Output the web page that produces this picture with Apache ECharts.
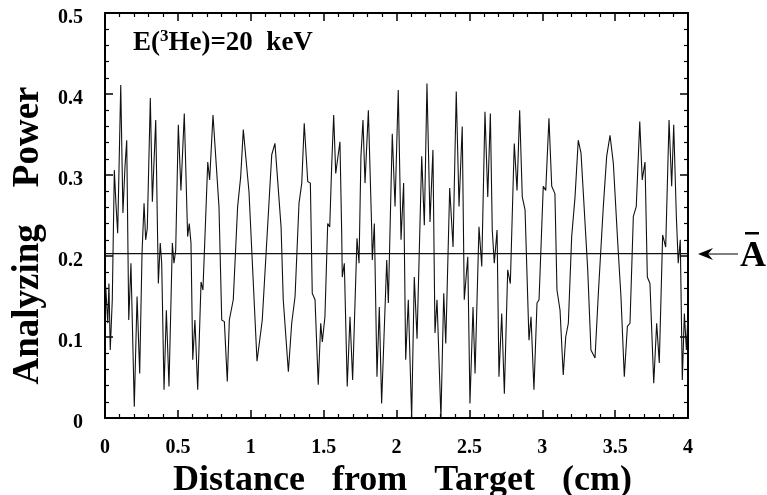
<!DOCTYPE html>
<html><head><meta charset="utf-8">
<script src="https://cdn.jsdelivr.net/npm/echarts@6/dist/echarts.min.js"></script>
<style>html,body{margin:0;padding:0;background:#fff}#c{width:767px;height:495px}</style>
</head><body><div id="c"></div>
<script>
const xs = [0.005,0.019,0.027,0.036,0.050,0.064,0.075,0.087,0.108,0.123,0.137,0.149,0.163,0.178,0.201,0.220,0.238,0.254,0.268,0.279,0.290,0.311,0.325,0.348,0.366,0.379,0.389,0.405,0.421,0.439,0.462,0.473,0.485,0.503,0.521,0.544,0.567,0.578,0.590,0.602,0.617,0.636,0.659,0.672,0.705,0.718,0.741,0.782,0.791,0.801,0.819,0.839,0.853,0.880,0.910,0.931,0.949,
0.988,1.043,1.079,1.144,1.166,1.208,1.223,1.258,1.281,1.304,1.331,1.350,1.367,1.391,1.409,1.422,1.441,1.463,1.480,1.491,1.509,1.528,1.542,1.555,1.569,1.583,1.597,1.612,1.624,1.628,1.642,1.662,1.681,1.699,1.729,1.743,1.756,1.770,1.784,1.807,1.830,1.834,1.848,1.866,1.882,1.898,
1.933,1.944,1.971,1.990,2.012,2.031,2.049,2.063,2.081,2.104,2.122,2.141,2.173,2.191,2.209,2.230,2.250,2.264,2.278,2.305,2.324,2.338,2.365,2.388,2.410,2.429,2.451,2.465,2.489,2.504,2.525,2.539,2.566,2.585,2.607,2.626,2.644,2.657,2.671,2.690,2.703,2.722,2.740,2.763,2.781,2.808,2.827,2.845,2.863,
2.882,2.909,2.923,2.943,2.964,2.978,3.007,3.024,3.046,3.065,3.087,3.101,3.122,3.144,3.161,3.179,3.202,3.225,3.247,3.266,3.312,3.334,3.362,3.385,3.419,3.442,3.465,3.488,3.518,3.540,3.563,3.584,3.602,3.625,3.645,3.669,3.686,3.705,3.721,3.739,3.765,3.785,3.803,3.826,3.847,3.870,3.888,3.902,3.920,3.933,3.947,3.961,3.975,3.989,3.998];
const ys = [0.162,0.117,0.166,0.084,0.146,0.306,0.265,0.228,0.411,0.253,0.310,0.343,0.121,0.191,0.014,0.150,0.055,0.203,0.265,0.220,0.234,0.395,0.267,0.368,0.166,0.216,0.191,0.035,0.133,0.039,0.216,0.191,0.207,0.362,0.281,0.376,0.224,0.240,0.216,0.072,0.121,0.035,0.168,0.158,0.316,0.294,0.374,0.261,0.259,0.121,0.119,0.045,0.121,0.146,0.261,0.298,0.356,
0.279,0.070,0.121,0.325,0.339,0.236,0.146,0.057,0.117,0.150,0.265,0.290,0.364,0.292,0.290,0.154,0.146,0.041,0.117,0.094,0.125,0.240,0.236,0.310,0.374,0.302,0.321,0.341,0.228,0.174,0.191,0.039,0.125,0.047,0.222,0.191,0.323,0.368,0.290,0.380,0.232,0.195,0.240,0.051,0.137,0.018,
0.195,0.142,0.351,0.261,0.405,0.220,0.290,0.072,0.146,0.000,0.174,0.098,0.323,0.238,0.413,0.242,0.331,0.105,0.146,0.000,0.154,0.092,0.284,0.211,0.403,0.261,0.360,0.146,0.199,0.018,0.137,0.055,0.236,0.187,0.378,0.273,0.376,0.232,0.191,0.232,0.051,0.129,0.030,0.183,0.166,0.339,0.281,0.380,0.273,
0.257,0.096,0.125,0.035,0.142,0.146,0.286,0.281,0.370,0.286,0.277,0.158,0.133,0.053,0.100,0.117,0.224,0.273,0.343,0.327,0.183,0.084,0.074,0.154,0.261,0.323,0.349,0.314,0.216,0.150,0.051,0.113,0.117,0.249,0.261,0.366,0.294,0.316,0.174,0.166,0.043,0.117,0.068,0.226,0.211,0.368,0.286,0.362,0.249,0.191,0.220,0.047,0.129,0.084,0.121];
const meanA = 0.203;
const xTicks = [0,0.5,1,1.5,2,2.5,3,3.5,4];
const yTicks = [0,0.1,0.2,0.3,0.4,0.5];

const FONT = '"Liberation Serif", "DejaVu Serif", serif';
const chart = echarts.init(document.getElementById('c'));
function ax(extra){
  return Object.assign({
    axisLine:{show:true,onZero:false,lineStyle:{color:'#000',width:2}},
    axisTick:{show:true,inside:true,length:8,lineStyle:{color:'#000',width:1.5}},
    minorTick:{show:true,splitNumber:5,length:4,lineStyle:{color:'#000',width:1.2}},
    splitLine:{show:false}
  }, extra);
}
chart.setOption({
  animation:false,
  backgroundColor:'#fff',
  grid:{left:105,right:79,top:13,bottom:77,containLabel:false,outerBoundsMode:'none'},
  xAxis:[
    ax({type:'value',min:0,max:4,interval:0.5,position:'bottom',
      axisLabel:{color:'#000',fontFamily:FONT,fontWeight:'bold',fontSize:20,margin:20,
        formatter:v=>xTicks.includes(+v.toFixed(1))?String(+v.toFixed(1)):''},
      name:'Distance   from   Target   (cm)',nameLocation:'middle',nameGap:37,
      nameTextStyle:{color:'#000',fontFamily:FONT,fontWeight:'bold',fontSize:36,padding:[0,0,0,12]}}),
    ax({type:'value',min:0,max:4,interval:0.5,position:'top',axisLabel:{show:false}})
  ],
  yAxis:[
    ax({type:'value',min:0,max:0.5,interval:0.1,position:'left',
      axisLabel:{color:'#000',fontFamily:FONT,fontWeight:'bold',fontSize:20,margin:22,
        formatter:v=>yTicks.includes(+v.toFixed(1))?'{a|'+String(+v.toFixed(1))+'}':'',
        rich:{a:{fontFamily:FONT,fontWeight:'bold',fontSize:20,color:'#000',padding:[10,0,0,0]}}},
      name:'Analyzing    Power',nameLocation:'middle',nameGap:54,nameRotate:90,
      nameTextStyle:{color:'#000',fontFamily:FONT,fontWeight:'bold',fontSize:37,padding:[0,40,0,0]}}),
    ax({type:'value',min:0,max:0.5,interval:0.1,position:'right',axisLabel:{show:false}})
  ],
  series:[
    {type:'line',data:xs.map((x,i)=>[x,ys[i]]),showSymbol:false,symbol:'none',
      lineStyle:{color:'#111',width:1.1},z:3},
    {type:'line',data:[[0,meanA],[4,meanA]],showSymbol:false,symbol:'none',
      lineStyle:{color:'#111',width:1.3},z:2}
  ],
  graphic:[
    {type:'text',left:133,top:28,style:{
      text:'{a|E(}{s|3}{a|He)=20  keV}',
      rich:{a:{fontFamily:FONT,fontWeight:'bold',fontSize:27,fill:'#000',lineHeight:30},
            s:{fontFamily:FONT,fontWeight:'bold',fontSize:17,fill:'#000',verticalAlign:'top',lineHeight:30,padding:[0,0,12,0]}}}},
    {type:'line',shape:{x1:704,y1:254,x2:738,y2:254},style:{stroke:'#000',lineWidth:1.2}},
    {type:'polygon',shape:{points:[[698,254],[713,248],[708,254],[713,260]]},style:{fill:'#000'}},
    {type:'text',left:740,top:239,style:{text:'A',fontFamily:FONT,fontWeight:'bold',fontSize:36,fill:'#000'}},
    {type:'rect',shape:{x:745,y:232,width:14,height:2.5},style:{fill:'#000'}}
  ]
});
</script></body></html>
